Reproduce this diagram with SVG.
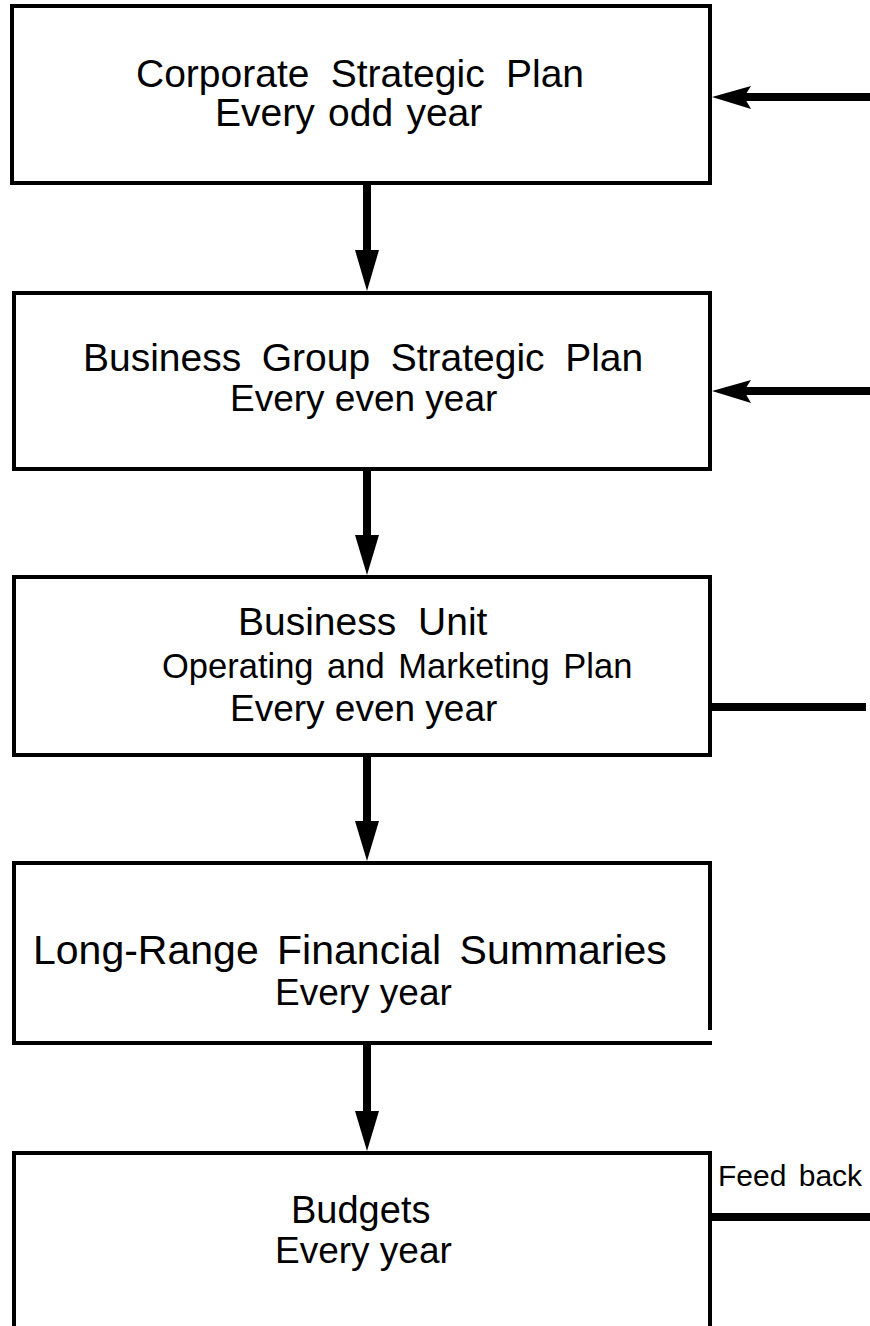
<svg xmlns="http://www.w3.org/2000/svg" width="870" height="1326" viewBox="0 0 870 1326">
<defs>
<style>
.box{fill:#fff;stroke:#000;stroke-width:4}
.t{font-family:"Liberation Sans",Arial,sans-serif;font-size:37px;fill:#000}
.fb{font-family:"Liberation Sans",Arial,sans-serif;font-size:30px;fill:#000;word-spacing:4px}
.ln{stroke:#000;stroke-width:8;fill:none}
.hd{fill:#000}
</style>
</defs>
<g id="node-corporate">
<rect class="box" x="12" y="6" width="698" height="177"/>
<text class="t" x="136" y="87" style="font-size:39px;word-spacing:10.5px">Corporate Strategic Plan</text>
<text class="t" x="215" y="126" style="font-size:39px;word-spacing:2.5px">Every odd year</text>
</g>
<g id="node-business-group">
<rect class="box" x="14" y="293" width="696" height="176"/>
<text class="t" x="83" y="371" style="font-size:39px;word-spacing:9.7px">Business Group Strategic Plan</text>
<text class="t" x="230" y="411">Every even year</text>
</g>
<g id="node-business-unit">
<rect class="box" x="14" y="577" width="696" height="178"/>
<text class="t" x="238" y="635" style="font-size:39px;word-spacing:11px">Business Unit</text>
<text class="t" x="162" y="678" style="font-size:34.5px;word-spacing:4px">Operating and Marketing Plan</text>
<text class="t" x="230" y="721">Every even year</text>
</g>
<g id="node-long-range">
<path class="box" d="M710,1030 V863 H14 V1043 H712"/>
<text class="t" x="33" y="964" style="font-size:41px;word-spacing:7px">Long-Range Financial Summaries</text>
<text class="t" x="275" y="1005">Every year</text>
</g>
<g id="node-budgets">
<path class="box" d="M14,1340 V1153 H710 V1340"/>
<text class="t" x="291" y="1223" style="font-size:38px">Budgets</text>
<text class="t" x="275" y="1263">Every year</text>
<text class="fb" x="718" y="1186">Feed back</text>
</g>
<g id="connectors">
<line class="ln" x1="367" y1="185" x2="367" y2="255"/>
<path class="hd" d="M355,250 L379,250 L367,291 Z"/>
<line class="ln" x1="367" y1="471" x2="367" y2="540"/>
<path class="hd" d="M355,535 L379,535 L367,575 Z"/>
<line class="ln" x1="367" y1="757" x2="367" y2="826"/>
<path class="hd" d="M355,821 L379,821 L367,861 Z"/>
<line class="ln" x1="367" y1="1045" x2="367" y2="1116"/>
<path class="hd" d="M355,1111 L379,1111 L367,1151 Z"/>
<line class="ln" x1="870" y1="97" x2="742" y2="97"/>
<path class="hd" d="M712,97 L751,86 L744,97 L751,109 Z"/>
<line class="ln" x1="870" y1="391" x2="742" y2="391"/>
<path class="hd" d="M712,391 L751,380 L744,391 L751,403 Z"/>
<line class="ln" x1="712" y1="707" x2="866" y2="707"/>
<line class="ln" x1="712" y1="1217" x2="870" y2="1217"/>
</g>
</svg>
